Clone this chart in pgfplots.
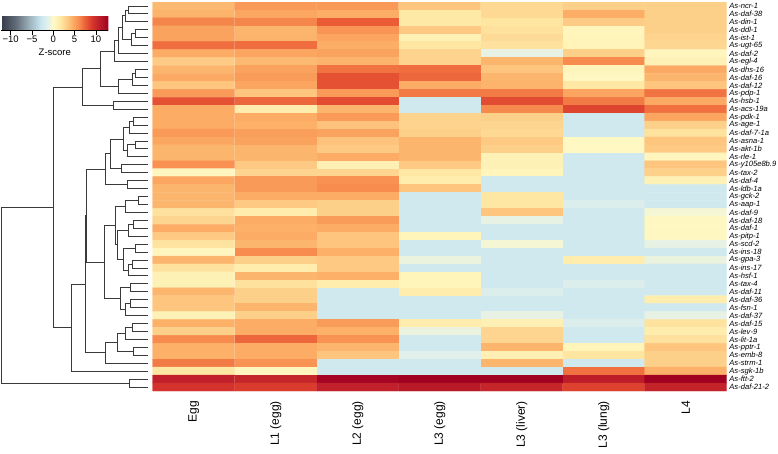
\documentclass[border=0pt]{standalone}
\usepackage{fontspec}
\setmainfont{Liberation Sans}
\usepackage{pgfplots}
\pgfplotsset{compat=1.18}
\definecolor{dend}{HTML}{3a3a3a}
\pgfplotsset{colormap={zscore}{
rgb255(0pt)=(55,60,75);
rgb255(32pt)=(95,105,118);
rgb255(62pt)=(150,170,180);
rgb255(92pt)=(200,230,240);
rgb255(107pt)=(225,240,235);
rgb255(122pt)=(255,250,200);
rgb255(137pt)=(254,234,166);
rgb255(152pt)=(253,208,138);
rgb255(167pt)=(252,174,102);
rgb255(182pt)=(247,140,78);
rgb255(197pt)=(235,94,55);
rgb255(212pt)=(216,56,44);
rgb255(227pt)=(192,33,42);
rgb255(251pt)=(160,0,32)}}
\newcommand{\link}[5]{\addplot[dend,line width=0.85pt] coordinates {(#1,#2) (#3,#2) (#3,#5) (#4,#5)};}
\begin{document}
\begin{tikzpicture}
\path[use as bounding box] (0,0) rectangle (778pt,-454pt);
% dendrogram
\begin{axis}[at={(0pt,-2pt)}, anchor=north west, scale only axis,
  width=152.7pt, height=389pt, xmin=0, xmax=152.7, ymin=0.5, ymax=49.5,
  y dir=reverse, hide axis, clip=false]
\def\L{147.5}
\link{\L}{1}{128}{\L}{2}
\link{128}{1.5}{125}{\L}{3}
\link{\L}{4}{135}{\L}{5}
\link{135}{4.5}{131}{\L}{6}
\link{125}{2.25}{122}{131}{5.25}
\link{122}{3.75}{118}{\L}{7}
\link{118}{5.375}{114}{\L}{8}
\link{\L}{9}{135}{\L}{10}
\link{135}{9.5}{132}{\L}{11}
\link{132}{10.25}{118}{\L}{12}
\link{114}{6.6875}{100}{118}{11.125}
\link{\L}{13}{113}{\L}{14}
\link{100}{8.90625}{82.7}{113}{13.5}
\link{\L}{15}{133}{\L}{16}
\link{133}{15.5}{129}{\L}{17}
\link{\L}{18}{135}{\L}{19}
\link{135}{18.5}{127}{\L}{20}
\link{129}{16.25}{123}{127}{19.25}
\link{\L}{21}{121}{\L}{22}
\link{123}{17.75}{110}{121}{21.5}
\link{\L}{23}{127}{\L}{24}
\link{110}{19.625}{105.7}{127}{23.5}
\link{\L}{25}{138}{\L}{26}
\link{138}{25.5}{125}{\L}{27}
\link{\L}{28}{133}{\L}{29}
\link{133}{28.5}{128}{\L}{30}
\link{\L}{31}{135}{\L}{32}
\link{\L}{33}{132}{\L}{34}
\link{132}{33.5}{128}{\L}{35}
\link{135}{31.5}{123}{128}{34.25}
\link{128}{29.25}{117}{123}{32.875}
\link{125}{26.25}{115}{117}{31.0625}
\link{\L}{36}{130}{\L}{37}
\link{\L}{38}{130}{\L}{39}
\link{130}{38.5}{125}{\L}{40}
\link{130}{36.5}{120}{125}{39.25}
\link{115}{28.65625}{104}{120}{37.875}
\link{105.7}{21.5625}{86.7}{104}{33.265625}
\link{\L}{41}{132}{\L}{42}
\link{132}{41.5}{125}{\L}{43}
\link{\L}{44}{133}{\L}{45}
\link{125}{42.25}{117}{133}{44.5}
\link{117}{43.375}{105}{\L}{46}
\link{86.7}{27.4140625}{85}{105}{44.6875}
\link{85}{36.05078125}{71.7}{\L}{47}
\link{82.7}{11.203125}{53.3}{71.7}{41.525390625}
\link{\L}{48}{129}{\L}{49}
\link{53.3}{26.3642578125}{1.7}{129}{48.5}
\end{axis}
% heatmap
\begin{axis}[at={(152.7pt,-2pt)}, anchor=north west, scale only axis,
  width=574pt, height=389pt, xmin=0.5, xmax=7.5, ymin=0.5, ymax=49.5,
  y dir=reverse, enlargelimits=false,
  colormap name=zscore, point meta min=-12.2, point meta max=12.9,
  axis line style={draw=none}, major tick length=0pt,
  xtick={1,...,7},
  xticklabels={Egg,L1 (egg),L2 (egg),L3 (egg),L3 (liver),L3 (lung),L4},
  xticklabel style={font=\fontsize{12}{12}\selectfont, rotate=90, anchor=east, inner sep=0pt},
  xticklabel shift=10pt,
  ytick={1,...,49},
  yticklabels={As-ncr-1,As-daf-38,As-din-1,As-ddl-1,As-ist-1,As-ugt-65,As-daf-2,As-egl-4,As-dhs-16,As-daf-16,As-daf-12,As-pdp-1,As-hsb-1,As-acs-19a,As-pdk-1,As-age-1,As-daf-7-1a,As-asna-1,As-akt-1b,As-rle-1,As-y105e8b.9,As-tax-2,As-daf-4,As-ldb-1a,As-gck-2,As-aap-1,As-daf-9,As-daf-18,As-daf-1,As-pitp-1,As-scd-2,As-ins-18,As-gpa-3,As-ins-17,As-hsf-1,As-tax-4,As-daf-11,As-daf-36,As-fsn-1,As-daf-37,As-daf-15,As-lev-9,As-lit-1a,As-pptr-1,As-emb-8,As-strm-1,As-sgk-1b,As-ftt-2,As-daf-21-2},
  yticklabel pos=right,
  yticklabel style={font=\fontsize{7.6}{8}\selectfont\itshape, anchor=west, inner sep=0pt, xshift=2.5pt},
  colorbar horizontal,
  colorbar style={at={(parent axis.north west)}, anchor=north west,
    xshift=-151.4pt, yshift=1pt,
    scale only axis, width=107pt, height=21pt,
    xtick={-10,-5,0,5,10}, xticklabels={−10,−5,0,5,10},
    xticklabel style={font=\fontsize{9.5}{9.5}\selectfont, rotate=0, anchor=north, inner sep=0pt},
    xticklabel shift=1.5pt,
    xlabel={Z-score}, xlabel style={font=\fontsize{9.5}{9.5}\selectfont, inner sep=0pt, yshift=-6pt},
    axis x line*=bottom, axis y line=none,
    xtick align=outside, major tick length=4pt,
    xtick style={draw=black, line width=0.6pt}, axis line style={draw=black, line width=0.6pt},
    ytick=\empty},
]
\addplot[matrix plot*, mesh/cols=7, point meta=explicit] coordinates {
(1,1)[4.0] (2,1)[5.4] (3,1)[5.4] (4,1)[3.5] (5,1)[2.5] (6,1)[3.0] (7,1)[3.0]
(1,2)[4.3] (2,2)[4.8] (3,2)[4.5] (4,2)[1.5] (5,2)[2.5] (6,2)[4.5] (7,2)[3.0]
(1,3)[6.2] (2,3)[6.2] (3,3)[7.6] (4,3)[1.5] (5,3)[1.8] (6,3)[3.2] (7,3)[3.0]
(1,4)[5.0] (2,4)[4.2] (3,4)[5.6] (4,4)[3.3] (5,4)[2.0] (6,4)[0.5] (7,4)[3.0]
(1,5)[5.0] (2,5)[4.3] (3,5)[4.9] (4,5)[0.8] (5,5)[2.4] (6,5)[0.6] (7,5)[2.8]
(1,6)[7.0] (2,6)[7.0] (3,6)[4.5] (4,6)[1.7] (5,6)[2.0] (6,6)[0.7] (7,6)[2.6]
(1,7)[4.6] (2,7)[4.9] (3,7)[5.0] (4,7)[2.8] (5,7)[-1.2] (6,7)[3.0] (7,7)[0.5]
(1,8)[3.2] (2,8)[4.0] (3,8)[4.3] (4,8)[2.8] (5,8)[4.2] (6,8)[6.0] (7,8)[0.8]
(1,9)[4.2] (2,9)[5.0] (3,9)[6.8] (4,9)[7.0] (5,9)[3.5] (6,9)[0.6] (7,9)[4.7]
(1,10)[4.7] (2,10)[5.3] (3,10)[8.0] (4,10)[7.2] (5,10)[4.2] (6,10)[0.3] (7,10)[4.2]
(1,11)[3.5] (2,11)[4.9] (3,11)[8.0] (4,11)[4.6] (5,11)[4.3] (6,11)[1.6] (7,11)[3.5]
(1,12)[5.4] (2,12)[3.5] (3,12)[5.4] (4,12)[6.6] (5,12)[6.6] (6,12)[4.9] (7,12)[6.8]
(1,13)[8.0] (2,13)[7.2] (3,13)[8.2] (4,13)[-2.5] (5,13)[8.2] (6,13)[6.6] (7,13)[4.7]
(1,14)[4.6] (2,14)[1.2] (3,14)[4.2] (4,14)[-2.5] (5,14)[6.1] (6,14)[8.5] (7,14)[6.9]
(1,15)[4.6] (2,15)[4.6] (3,15)[5.4] (4,15)[2.8] (5,15)[3.0] (6,15)[-2.5] (7,15)[4.9]
(1,16)[4.6] (2,16)[4.4] (3,16)[3.6] (4,16)[2.8] (5,16)[2.7] (6,16)[-2.5] (7,16)[3.0]
(1,17)[5.4] (2,17)[5.2] (3,17)[5.0] (4,17)[3.0] (5,17)[2.5] (6,17)[-2.5] (7,17)[1.9]
(1,18)[4.8] (2,18)[5.0] (3,18)[3.6] (4,18)[4.2] (5,18)[3.3] (6,18)[0.2] (7,18)[3.5]
(1,19)[4.2] (2,19)[4.2] (3,19)[3.3] (4,19)[4.2] (5,19)[3.0] (6,19)[0.2] (7,19)[3.3]
(1,20)[4.2] (2,20)[4.2] (3,20)[4.6] (4,20)[4.2] (5,20)[0.8] (6,20)[-2.5] (7,20)[0.5]
(1,21)[5.8] (2,21)[3.3] (3,21)[0.9] (4,21)[3.3] (5,21)[0.8] (6,21)[-2.5] (7,21)[3.5]
(1,22)[0.4] (2,22)[2.7] (3,22)[2.7] (4,22)[1.6] (5,22)[0.5] (6,22)[-2.5] (7,22)[3.0]
(1,23)[4.8] (2,23)[5.4] (3,23)[5.8] (4,23)[1.2] (5,23)[-2.5] (6,23)[-2.5] (7,23)[0.8]
(1,24)[4.2] (2,24)[5.4] (3,24)[6.0] (4,24)[3.5] (5,24)[-2.5] (6,24)[-2.5] (7,24)[-2.5]
(1,25)[4.2] (2,25)[4.6] (3,25)[4.6] (4,25)[-2.5] (5,25)[1.7] (6,25)[-2.5] (7,25)[-2.5]
(1,26)[4.2] (2,26)[3.3] (3,26)[3.0] (4,26)[-2.5] (5,26)[1.7] (6,26)[-1.8] (7,26)[-2.5]
(1,27)[2.0] (2,27)[1.2] (3,27)[3.0] (4,27)[-2.5] (5,27)[3.5] (6,27)[-2.5] (7,27)[-0.5]
(1,28)[2.7] (2,28)[4.6] (3,28)[5.3] (4,28)[-2.5] (5,28)[-1.2] (6,28)[-2.5] (7,28)[0.3]
(1,29)[4.6] (2,29)[4.4] (3,29)[4.6] (4,29)[-2.5] (5,29)[-2.5] (6,29)[-2.5] (7,29)[0.3]
(1,30)[3.3] (2,30)[4.6] (3,30)[3.5] (4,30)[0.6] (5,30)[-2.5] (6,30)[-2.5] (7,30)[0.3]
(1,31)[1.9] (2,31)[4.2] (3,31)[3.5] (4,31)[-2.5] (5,31)[-0.5] (6,31)[-2.5] (7,31)[-1.2]
(1,32)[0.4] (2,32)[6.0] (3,32)[4.4] (4,32)[-2.5] (5,32)[-2.5] (6,32)[-2.5] (7,32)[-2.5]
(1,33)[4.2] (2,33)[3.0] (3,33)[3.3] (4,33)[-1.0] (5,33)[-2.5] (6,33)[1.2] (7,33)[-1.0]
(1,34)[2.0] (2,34)[1.2] (3,34)[3.3] (4,34)[-2.5] (5,34)[-2.5] (6,34)[-2.5] (7,34)[-2.5]
(1,35)[0.8] (2,35)[4.2] (3,35)[4.4] (4,35)[0.6] (5,35)[-2.5] (6,35)[-2.5] (7,35)[-2.5]
(1,36)[0.8] (2,36)[2.0] (3,36)[1.2] (4,36)[0.6] (5,36)[-2.5] (6,36)[-1.8] (7,36)[-2.5]
(1,37)[4.2] (2,37)[3.0] (3,37)[-2.5] (4,37)[1.2] (5,37)[-1.8] (6,37)[-2.5] (7,37)[-2.5]
(1,38)[3.5] (2,38)[3.0] (3,38)[-2.5] (4,38)[-2.5] (5,38)[-2.5] (6,38)[-2.5] (7,38)[1.2]
(1,39)[3.5] (2,39)[4.2] (3,39)[-2.5] (4,39)[-2.5] (5,39)[-2.5] (6,39)[-2.5] (7,39)[-2.5]
(1,40)[0.8] (2,40)[3.0] (3,40)[-2.5] (4,40)[-2.5] (5,40)[-1.2] (6,40)[-2.5] (7,40)[-1.2]
(1,41)[4.4] (2,41)[4.6] (3,41)[5.3] (4,41)[1.2] (5,41)[0.9] (6,41)[-1.8] (7,41)[1.9]
(1,42)[3.0] (2,42)[4.6] (3,42)[4.4] (4,42)[-1.0] (5,42)[2.7] (6,42)[-2.5] (7,42)[1.2]
(1,43)[6.0] (2,43)[7.2] (3,43)[5.7] (4,43)[-2.5] (5,43)[2.7] (6,43)[-2.5] (7,43)[2.0]
(1,44)[4.4] (2,44)[4.6] (3,44)[4.2] (4,44)[-2.5] (5,44)[4.2] (6,44)[0.6] (7,44)[3.5]
(1,45)[4.4] (2,45)[4.6] (3,45)[3.5] (4,45)[-1.5] (5,45)[0.9] (6,45)[1.8] (7,45)[3.0]
(1,46)[6.6] (2,46)[5.7] (3,46)[-2.5] (4,46)[-2.5] (5,46)[4.2] (6,46)[-2.5] (7,46)[3.0]
(1,47)[1.7] (2,47)[0.4] (3,47)[-2.5] (4,47)[-2.5] (5,47)[-2.5] (6,47)[6.9] (7,47)[4.4]
(1,48)[10.5] (2,48)[10.2] (3,48)[12.5] (4,48)[12.8] (5,48)[12.8] (6,48)[10.8] (7,48)[12.8]
(1,49)[9.3] (2,49)[8.9] (3,49)[10.5] (4,49)[11.0] (5,49)[10.2] (6,49)[8.6] (7,49)[10.3]
};
\end{axis}
\end{tikzpicture}
\end{document}
